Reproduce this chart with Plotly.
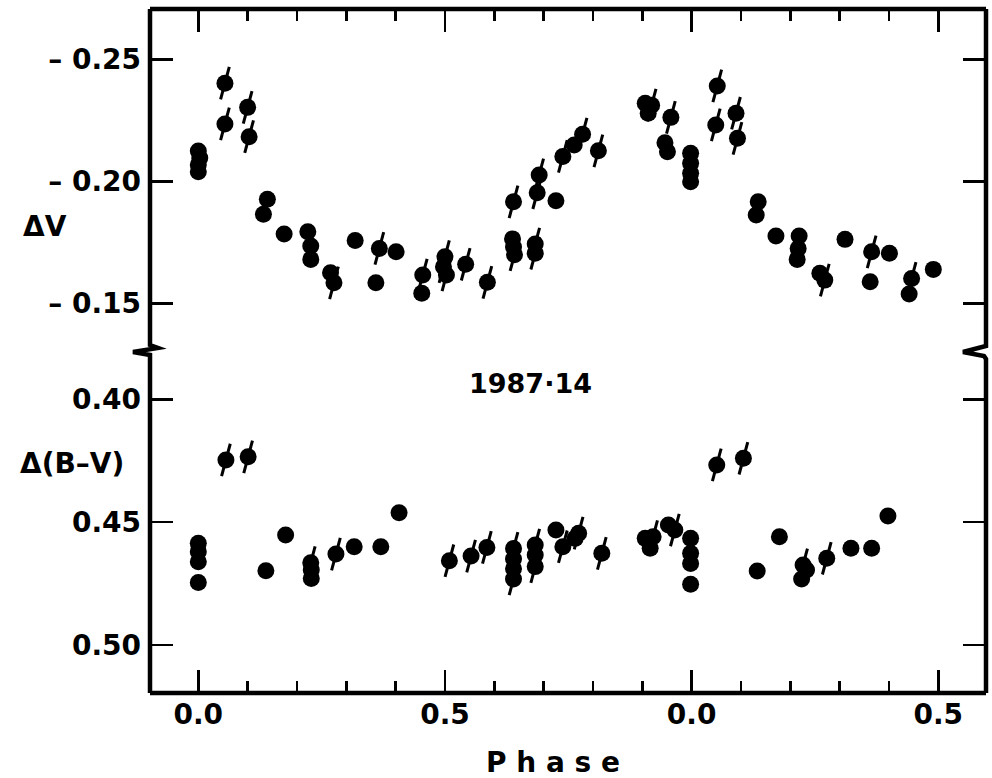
import plotly.graph_objects as go

# ---------------- data ----------------
# Delta V, plain filled circles
v_plain_phase = [0.000, 0.003, 0.000, 0.000, 0.140, 0.132, 0.174, 0.222, 0.228, 0.228,
                 0.268, 0.318, 0.401, 0.360, 0.453, 0.637, 0.639, 0.725, 0.762,
                 0.906, 0.912, 0.946, 0.951, 0.998, 0.998, 0.998, 0.998,
                 1.135, 1.131, 1.171, 1.218, 1.216, 1.214, 1.260, 1.311, 1.401,
                 1.362, 1.441, 1.490]
v_plain_mag = [-0.2124, -0.2095, -0.2068, -0.2039, -0.1926, -0.1865, -0.1784, -0.1793, -0.1735, -0.1680,
               -0.1625, -0.1757, -0.1711, -0.1584, -0.1541, -0.1764, -0.1731, -0.1920, -0.2149,
               -0.2320, -0.2279, -0.2158, -0.2121, -0.2115, -0.2074, -0.2033, -0.1998,
               -0.1916, -0.1862, -0.1776, -0.1776, -0.1725, -0.1680, -0.1623, -0.1762, -0.1705,
               -0.1588, -0.1538, -0.1639]
# Delta V, circles with a slanted stroke
v_tick_phase = [0.054, 0.054, 0.100, 0.103, 0.275, 0.367, 0.455, 0.500, 0.497, 0.503,
                0.542, 0.586, 0.639, 0.641, 0.683, 0.683, 0.687, 0.691, 0.739, 0.779,
                0.811, 0.919, 0.958, 1.052, 1.049, 1.090, 1.093, 1.270, 1.365, 1.446]
v_tick_mag = [-0.2402, -0.2235, -0.2303, -0.2183, -0.1584, -0.1725, -0.1616, -0.1691, -0.1650, -0.1616,
              -0.1660, -0.1586, -0.1916, -0.1699, -0.1743, -0.1705, -0.1953, -0.2026, -0.2102, -0.2193,
              -0.2125, -0.2312, -0.2262, -0.2391, -0.2231, -0.2279, -0.2176, -0.1595, -0.1711, -0.1602]

# Delta(B-V), plain filled circles
bv_plain_phase = [0.000, 0.000, 0.000, 0.000, 0.137, 0.177, 0.229, 0.229, 0.316, 0.370, 0.407,
                  0.639, 0.639, 0.683, 0.725, 0.764, 0.906, 0.916, 0.953,
                  0.998, 0.998, 0.998, 0.998, 1.133, 1.178, 1.233, 1.223, 1.323, 1.365, 1.398]
bv_plain_val = [0.4586, 0.4620, 0.4661, 0.4746, 0.4698, 0.4552, 0.4695, 0.4729, 0.4600, 0.4600, 0.4462,
                0.4650, 0.4690, 0.4634, 0.4532, 0.4566, 0.4566, 0.4606, 0.4512,
                0.4566, 0.4627, 0.4668, 0.4753, 0.4699, 0.4559, 0.4695, 0.4731, 0.4606, 0.4606, 0.4475]
# Delta(B-V), circles with a slanted stroke
bv_tick_phase = [0.056, 0.101, 0.228, 0.279, 0.509, 0.553, 0.585, 0.639, 0.639, 0.683, 0.683,
                 0.739, 0.771, 0.818, 0.922, 0.966, 1.051, 1.105, 1.226, 1.274]
bv_tick_val = [0.4247, 0.4234, 0.4665, 0.4630, 0.4657, 0.4638, 0.4603, 0.4607, 0.4731, 0.4593, 0.4681,
               0.4600, 0.4545, 0.4627, 0.4559, 0.4532, 0.4267, 0.4240, 0.4674, 0.4647]

x_tickvals = [0.0, 0.5, 1.0, 1.5]
x_ticktext = ["0.0", "0.5", "0.0", "0.5"]
v_tickvals = [-0.25, -0.20, -0.15]
v_ticktext = ["– 0.25", "– 0.20", "– 0.15"]
bv_tickvals = [0.40, 0.45, 0.50]
bv_ticktext = ["0.40", "0.45", "0.50"]

# ---------------- layout geometry ----------------
W, H = 992, 778
L, R, T, B = 150, 6, 9, 85
PW, PH = W - L - R, H - T - B
BREAK_PX = 350
split = (H - B - BREAK_PX) / PH

def px(xp):
    return (xp - L) / PW

def py(yp):
    return (H - B - yp) / PH

FONT = "DejaVu Sans"
INK = "black"

fig = go.Figure()

def add_points(phase, vals, xa, ya, ticked):
    if ticked:
        fig.add_trace(go.Scatter(
            x=phase, y=vals, xaxis=xa, yaxis=ya, mode="markers", hoverinfo="skip",
            marker=dict(symbol="line-ns-open", size=24, angle=15, color=INK,
                        line=dict(color=INK, width=3)),
            showlegend=False))
    fig.add_trace(go.Scatter(
        x=phase, y=vals, xaxis=xa, yaxis=ya, mode="markers",
        marker=dict(symbol="circle", size=17, color=INK, line=dict(width=0)),
        showlegend=False))

add_points(v_plain_phase, v_plain_mag, "x", "y", False)
add_points(v_tick_phase, v_tick_mag, "x", "y", True)
add_points(bv_plain_phase, bv_plain_val, "x2", "y2", False)
add_points(bv_tick_phase, bv_tick_val, "x2", "y2", True)

xrange = [(L - 198.3) / 493.3, (W - R - 198.3) / 493.3]
tickfont = dict(family=FONT, size=28, color=INK, weight="bold")

common_x = dict(range=xrange, tickmode="array", tickvals=x_tickvals, ticktext=x_ticktext,
                ticks="inside", ticklen=23, tickwidth=2.5, tickcolor=INK,
                minor=dict(ticks="inside", ticklen=12, tickwidth=2.5, tickcolor=INK,
                           dtick=0.1, tick0=0.0),
                showgrid=False, zeroline=False, showline=False, fixedrange=True)

fig.update_layout(
    width=W, height=H,
    margin=dict(l=L, r=R, t=T, b=B, pad=0),
    paper_bgcolor="white", plot_bgcolor="white",
    xaxis=dict(anchor="y", side="top", showticklabels=False, **common_x),
    xaxis2=dict(anchor="y2", side="bottom", showticklabels=True, tickfont=tickfont,
                ticklabelstandoff=2, **common_x),
    yaxis=dict(anchor="x", domain=[split, 1.0],
               range=[-0.15 + (BREAK_PX - 303.3) / 2440, -0.25 - (59.3 - T) / 2440],
               tickmode="array", tickvals=v_tickvals, ticktext=v_ticktext,
               ticks="inside", ticklen=23, tickwidth=2.5, tickcolor=INK, mirror="ticks",
               tickfont=tickfont, ticklabelstandoff=8,
               showgrid=False, zeroline=False, showline=False, fixedrange=True),
    yaxis2=dict(anchor="x2", domain=[0.0, split],
                range=[0.50 + (H - B - 645) / 2457, 0.40 - (399.3 - BREAK_PX) / 2457],
                tickmode="array", tickvals=bv_tickvals, ticktext=bv_ticktext,
                ticks="inside", ticklen=23, tickwidth=2.5, tickcolor=INK, mirror="ticks",
                tickfont=tickfont, ticklabelstandoff=8,
                showgrid=False, zeroline=False, showline=False, fixedrange=True),
)

# frame with axis-break marks
lw = 4.5
frame_paths = [
    [(L, T), (W - R, T)],
    [(L, H - B), (W - R, H - B)],
    [(L, T), (L, 345), (158, 348), (133, 352), (L, 355), (L, H - B)],
    [(W - R, T), (W - R, 346), (963, 352), (W - R - 2, 356), (W - R, 359), (W - R, H - B)],
]
for pts in frame_paths:
    d = "M " + " L ".join(f"{px(a):.5f},{py(b):.5f}" for a, b in pts)
    fig.add_shape(type="path", path=d, xref="paper", yref="paper",
                  line=dict(color=INK, width=lw), layer="above")

def label(text, cx, cy, size=28):
    fig.add_annotation(text=text, x=px(cx), y=py(cy), xref="paper", yref="paper",
                       showarrow=False, xanchor="center", yanchor="middle",
                       font=dict(family=FONT, size=size, color=INK, weight="bold"))

label("ΔV", 45, 226)
label("Δ(B–V)", 72, 463)
label("1987·14", 530, 383, size=27)
label("P h a s e", 553, 762, size=28)

fig.write_html("out.html",
               config={"displayModeBar": False, "staticPlot": True},
               post_script="document.body.style.margin='0';document.body.style.overflow='hidden';")
